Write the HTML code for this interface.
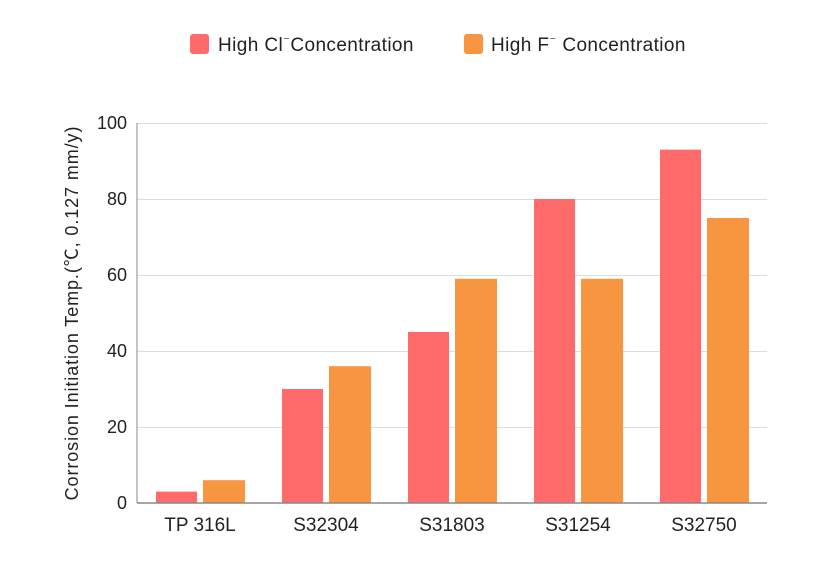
<!DOCTYPE html>
<html><head><meta charset="utf-8"><style>body{margin:0;background:#fff}</style></head><body>
<svg width="814" height="562" xmlns="http://www.w3.org/2000/svg" font-family="Liberation Sans, DejaVu Sans, sans-serif">
<rect width="814" height="562" fill="#fff"/>
<g stroke="#dcdcdc" stroke-width="1">
<line x1="137" x2="767" y1="123.5" y2="123.5"/>
<line x1="137" x2="767" y1="199.5" y2="199.5"/>
<line x1="137" x2="767" y1="275.5" y2="275.5"/>
<line x1="137" x2="767" y1="351.5" y2="351.5"/>
<line x1="137" x2="767" y1="427.5" y2="427.5"/>
</g>
<g font-size="18" fill="#222" text-anchor="end">
<text x="127" y="129">100</text><text x="127" y="205">80</text><text x="127" y="281">60</text>
<text x="127" y="357">40</text><text x="127" y="433">20</text><text x="127" y="509">0</text>
</g>
<g fill="#ff6b6b">
<rect x="156" y="491.6" width="41" height="11.4"/>
<rect x="282" y="389" width="41" height="114"/>
<rect x="408" y="332" width="41" height="171"/>
<rect x="534" y="199" width="41" height="304"/>
<rect x="660" y="149.6" width="41" height="353.4"/>
</g>
<g fill="#f79540">
<rect x="203" y="480.2" width="42" height="22.8"/>
<rect x="329" y="366.2" width="42" height="136.8"/>
<rect x="455" y="278.8" width="42" height="224.2"/>
<rect x="581" y="278.8" width="42" height="224.2"/>
<rect x="707" y="218" width="42" height="285"/>
</g>
<line x1="137" x2="767" y1="503" y2="503" stroke="#888" stroke-width="1.5"/>
<line x1="137" x2="137" y1="123" y2="503" stroke="#888" stroke-width="1"/>
<g font-size="19" fill="#222" text-anchor="middle">
<text x="200" y="531">TP 316L</text><text x="326" y="531">S32304</text><text x="452" y="531">S31803</text>
<text x="578" y="531">S31254</text><text x="704" y="531">S32750</text>
</g>
<text transform="translate(78,313) rotate(-90)" font-size="18" letter-spacing="0.9" fill="#222" text-anchor="middle" font-family="Liberation Sans, Noto Sans CJK SC, sans-serif">Corrosion Initiation Temp.(℃, 0.127 mm/y)</text>
<rect x="190" y="34" width="19" height="20" rx="3" fill="#ff6b6b"/>
<text x="218" y="51" font-size="19" letter-spacing="0.4" fill="#222">High Cl<tspan dy="-6" font-size="13">⁻</tspan><tspan dy="6">Concentration</tspan></text>
<rect x="464" y="34" width="19" height="20" rx="3" fill="#f79540"/>
<text x="491" y="51" font-size="19" letter-spacing="0.4" fill="#222">High F<tspan dy="-6" font-size="13">⁻</tspan><tspan dy="6"> Concentration</tspan></text>
</svg>
</body></html>
